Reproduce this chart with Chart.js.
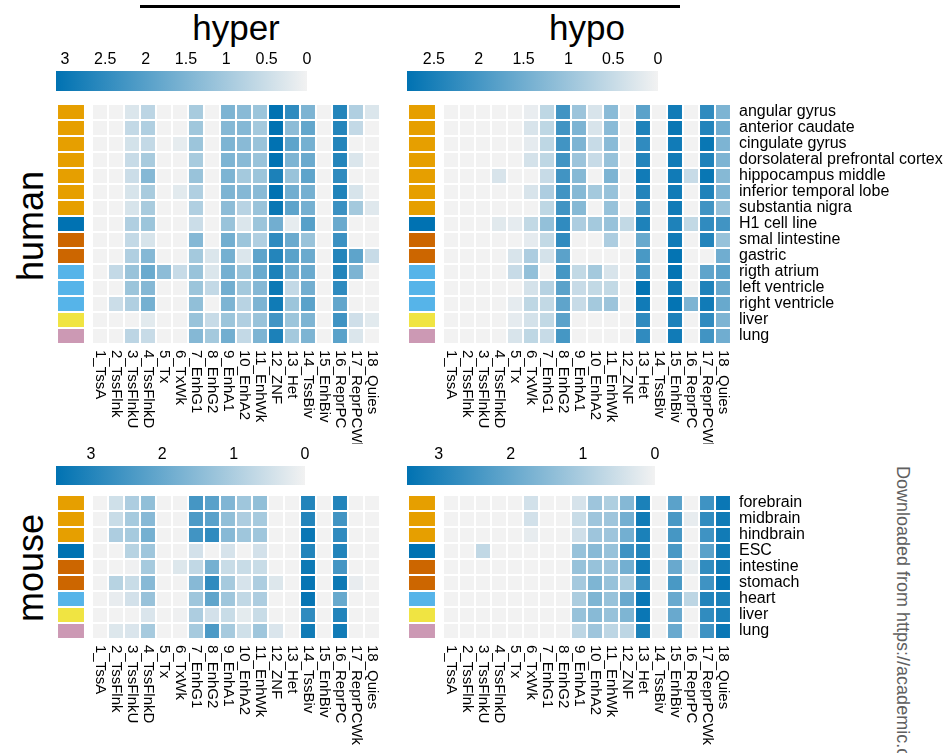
<!DOCTYPE html>
<html><head><meta charset="utf-8">
<script src="https://cdn.jsdelivr.net/npm/chart.js@4"></script>
<style>
html,body{margin:0;padding:0;background:#fff;}
body{width:947px;height:753px;position:relative;overflow:hidden;font-family:"Liberation Sans",Arial,Helvetica,sans-serif;}
canvas{position:absolute;}
.t{position:absolute;white-space:nowrap;color:#000;line-height:1;}
</style></head><body>
<div style="position:absolute;left:140px;top:5px;width:540px;height:3px;background:#000"></div>
<div class="t" style="left:236px;top:10px;font-size:35px;transform:translateX(-50%)">hyper</div>
<div class="t" style="left:587px;top:10px;font-size:35px;transform:translateX(-50%)">hypo</div>
<div class="t" style="left:31px;top:226px;font-size:36px;transform:translate(-50%,-50%) rotate(-90deg)">human</div>
<div class="t" style="left:31px;top:568px;font-size:36px;transform:translate(-50%,-50%) rotate(-90deg)">mouse</div>
<div class="t" style="left:912px;top:466px;font-size:18px;color:#606060;transform-origin:0 0;transform:rotate(90deg)">Downloaded from https://academic.o</div>
<script>
// ---------------- data ----------------
const states = ['1_TssA','2_TssFlnk','3_TssFlnkU','4_TssFlnkD','5_Tx','6_TxWk','7_EnhG1','8_EnhG2','9_EnhA1','10_EnhA2','11_EnhWk','12_ZNF','13_Het','14_TssBiv','15_EnhBiv','16_ReprPC','17_ReprPCWk','18_Quies'];

const humanTissues = ['angular gyrus','anterior caudate','cingulate gyrus','dorsolateral prefrontal cortex','hippocampus middle','inferior temporal lobe','substantia nigra','H1 cell line','smal lintestine','gastric','rigth atrium','left ventricle','right ventricle','liver','lung'];
const humanGroups = ['brain','brain','brain','brain','brain','brain','brain','ESC','digestive','digestive','heart','heart','heart','liver','lung'];

const mouseTissues = ['forebrain','midbrain','hindbrain','ESC','intestine','stomach','heart','liver','lung'];
const mouseGroups = ['brain','brain','brain','ESC','digestive','digestive','heart','liver','lung'];

const humanHyper = [
 [0,0,0.3,0.7,0,0,0.95,0,1.5,1.35,1.1,3.1,2.5,1.5,0,2.65,0.85,0.3],
 [0,0,0.6,0.85,0,0,1.05,0,1.4,1.4,1.0,3.1,1.3,1.85,0,2.65,0.6,0],
 [0,0,0.4,0.6,0,0.15,1.1,0,1.5,1.35,1.15,3.1,1.9,1.6,0,2.65,0,0],
 [0,0,0.55,0.95,0,0,0.95,0,1.5,1.35,1.15,3.1,1.5,1.75,0,2.65,0.3,0],
 [0,0,0.5,1.4,0,0,1.15,0,1.5,1.0,1.1,2.75,1.15,1.9,0,2.5,0,0],
 [0,0,0.35,0.95,0,0.2,0.85,0,1.5,1.4,1.35,3.1,1.65,1.6,0,2.7,0.35,0],
 [0,0,0.35,0.95,0,0,0.85,0,1.3,0.75,1.15,3.0,1.9,1.6,0,2.35,1.0,0.25],
 [0,0,0.85,1.1,0,0,0.5,0,1.15,0.3,1.1,1.65,0.15,2.0,0,1.75,0,0],
 [0,0,0.6,0.35,0,0,1.4,0,1.65,1.1,0.85,2.5,1.75,1.15,0,2.35,0,0],
 [0,0,0.85,1.4,0,0,1.0,0.3,1.6,0.3,1.9,2.65,1.95,1.75,0,2.65,1.9,0.55],
 [0,0.6,1.15,1.75,1.3,0.55,1.15,0.3,1.6,1.1,1.75,2.75,1.65,1.75,0,2.65,1.5,0],
 [0,0,1.1,1.4,0,0,1.1,0.6,1.65,1.0,1.4,2.95,0.6,1.65,0,2.5,0,0],
 [0,0.5,0.85,1.6,0,0,1.25,0,1.5,0.75,1.5,2.9,1.1,1.95,0,1.85,0,0],
 [0,0,0,0.2,0,0,1.15,0.55,1.1,0.85,1.15,2.25,1.1,1.5,0,2.3,0.45,0.2],
 [0,0,0.7,0.55,0,0,1.4,1.0,1.65,0.6,1.5,2.75,1.0,1.5,0,1.95,0.3,0]
];
const humanHypo = [
 [0,0,0,0,0,0.1,0.6,2.05,1.0,0.3,1.2,0,1.75,0,2.6,0,2.25,1.35],
 [0,0,0,0,0,0.3,0.6,2.05,1.35,0.3,1.2,0,2.45,0,2.7,0,2.4,1.5],
 [0,0,0,0,0,0.15,0.6,2.05,1.35,0.5,1.2,0,2.25,0,2.6,0,2.7,1.35],
 [0,0,0,0,0,0.35,0.6,2.05,1.0,0.5,1.05,0,2.4,0,2.6,0,2.45,1.35],
 [0,0,0,0.3,0,0,0.5,2.05,1.25,0,1.35,0,2.6,0,2.6,0.5,2.7,1.25],
 [0,0,0,0,0,0.3,0.8,2.05,1.25,0.9,1.05,0,2.4,0,2.6,0,2.45,1.35],
 [0,0,0,0,0,0,0.6,2.05,1.25,0,1.05,0,2.05,0,2.6,0,2.05,1.05],
 [0,0,0,0.2,0.15,0.55,1.1,2.25,0.8,0.9,1.05,0.55,2.45,0,2.45,0.55,2.25,2.05],
 [0,0,0,0,0,0.15,0.55,2.25,0,0,0.8,0,1.6,0,2.6,0,2.4,1.05],
 [0,0,0,0,0.3,0.8,0.35,1.75,0,0,0,0,1.95,0,2.75,0,0,1.5],
 [0,0,0,0,0.5,1.1,0,2.0,0.55,0.9,0.3,0,2.05,0,2.75,0,1.7,1.75],
 [0,0,0,0,0,0.35,0.7,1.75,0.5,0.55,0.55,0,2.75,0,2.6,0,2.45,1.6],
 [0,0,0,0,0.15,0.6,0.55,1.7,0.5,0.9,1.0,0,2.6,0,2.75,1.35,2.6,1.6],
 [0,0,0,0,0.15,0.35,0.55,1.75,0,0,0,0,2.25,0,2.45,0,2.25,1.35],
 [0,0,0,0,0.3,0.6,0.5,2.0,0,0,0,0,2.25,0,2.6,0,2.05,1.5]
];
const mouseHyper = [
 [0,0.5,1.0,1.4,0,0,2.5,2.2,1.65,1.2,1.4,0,0,3.0,0,3.0,0,0],
 [0,0.6,1.1,1.55,0,0,2.4,2.2,1.4,1.0,1.1,0,0,3.0,0,2.55,0,0],
 [0,1.0,1.1,1.8,0,0,2.55,2.8,1.55,1.2,1.2,0,0,3.35,0,2.8,0,0],
 [0,0,0.85,1.2,0,0,0.45,0,0.4,0,0.45,0,0,3.0,0,3.0,0,0],
 [0,0,0.05,1.1,0,0.3,0.7,1.8,0.6,0.6,0.6,0,0,3.3,0,2.5,0,0],
 [0,0.85,0.6,1.55,0,0,1.55,2.8,1.1,0.4,1.0,0.3,0,3.4,0,3.3,0.15,0],
 [0,0.15,0.45,1.3,0,0,1.2,2.1,1.2,0.7,1.0,0,0,3.4,0,2.0,0,0],
 [0,0,0,0.35,0,0.05,1.0,0.45,0.6,0.2,0.6,0,0,2.8,0,3.0,0,0],
 [0,0.3,0.35,1.1,0,0,1.1,2.4,1.1,0.5,1.2,0.35,0,3.25,0,3.25,0,0]
];
const mouseHypo = [
 [0,0,0,0,0,0.45,0,0,0.4,1.2,0.95,1.55,3.05,0,2.15,0,2.55,3.3],
 [0,0,0,0,0,0.45,0,0,0.6,1.2,1.2,1.8,3.2,0,2.4,0.15,2.75,3.2],
 [0,0,0,0,0,0.15,0,0,0.5,1.2,1.2,1.8,3.05,0,2.45,0,2.55,3.2],
 [0,0,0.7,0,0,0,0,0,1.3,1.5,1.3,2.55,2.95,0,2.4,0,2.15,3.2],
 [0,0,0,0,0,0,0,0,1.3,1.3,1.2,1.8,3.2,0,1.95,0.15,2.75,3.2],
 [0,0,0,0,0,0,0,0,1.1,1.65,1.3,1.0,2.75,0,2.4,0,2.55,3.35],
 [0,0,0,0,0,0,0,0,1.0,1.65,1.3,1.95,3.3,0,1.95,0.75,2.95,3.05],
 [0,0,0,0,0,0,0,0,1.3,1.5,1.3,1.65,3.3,0,1.95,0,2.75,3.05],
 [0,0,0,0,0,0,0,0,0.75,1.2,0.75,0.75,3.05,0,1.95,0,2.55,3.3]
];

// colour-scale limits and tick labels
const humanHyperMax = 3.11;
const humanHypoMax = 2.8;
const mouseHyperMax = 3.49;
const mouseHypoMax = 3.44;
const humanHyperTicks = [3,2.5,2,1.5,1,0.5,0];
const humanHypoTicks = [2.5,2,1.5,1,0.5,0];
const mouseHyperTicks = [3,2,1,0];
const mouseHypoTicks = [3,2,1,0];

// ---------------- styling ----------------
const FONT = "'Liberation Sans', Arial, Helvetica, sans-serif";
const groupColors = {brain:'#E69F00', ESC:'#0072B2', digestive:'#CC6600', heart:'#56B4E9', liver:'#F0E442', lung:'#CC99B4'};
const LOW = [242,242,242], HIGH = [0,114,178];
function heatColor(v, vmax){
  const t = Math.max(0, Math.min(1, v / vmax));
  const c = LOW.map((l,k)=>Math.round(l + (HIGH[k]-l)*t));
  return `rgb(${c[0]},${c[1]},${c[2]})`;
}
function mkCanvas(left, top, w, h){
  const c = document.createElement('canvas');
  c.width = w; c.height = h;
  c.style.left = left+'px'; c.style.top = top+'px';
  c.style.width = w+'px'; c.style.height = h+'px';
  document.body.appendChild(c);
  return c;
}
const baseOpts = {responsive:false, animation:false, devicePixelRatio:1,
  plugins:{legend:{display:false}, tooltip:{enabled:false}}};

const stateLabels = {
  id:'stateLabels',
  afterDraw(chart){
    const ctx = chart.ctx, xs = chart.scales.x, top = chart.chartArea.bottom + 6;
    ctx.save();
    ctx.font = `15px ${FONT}`; ctx.fillStyle = '#000';
    ctx.textAlign = 'left'; ctx.textBaseline = 'middle';
    chart.data.labels.forEach((lab,i)=>{
      ctx.save();
      ctx.translate(xs.getPixelForValue(i), top);
      ctx.rotate(Math.PI/2);
      ctx.fillText(lab, 0, 0);
      ctx.restore();
    });
    ctx.restore();
  }
};

const CELL = 16, BW = 1.35;

function heatmap(left, top, values, vmax, tissues, rowLabels, padB){
  const areaW = states.length*CELL, areaH = tissues.length*CELL, axisW = rowLabels ? 220 : 0;
  const cv = mkCanvas(left, top, areaW + axisW, areaH + padB);
  const scales = {
    x:{type:'category', stacked:true, display:false, offset:true},
    y:{type:'linear', stacked:true, display:false, min:0, max:tissues.length, reverse:true}
  };
  if (rowLabels) {
    scales.yRows = {type:'category', axis:'y', labels:tissues, position:'right', offset:true,
      grid:{display:false, drawTicks:false}, border:{display:false},
      ticks:{autoSkip:false, padding:8, color:'#000', font:{family:FONT, size:16}},
      afterFit: s => { s.width = axisW; s.paddingTop = 0; s.paddingBottom = 0; }};
  }
  new Chart(cv, {
    type:'bar',
    data:{labels:states, datasets: values.map((row,i)=>({
      label:tissues[i], data: row.map(()=>1),
      backgroundColor: row.map(v=>heatColor(v, vmax)),
      borderColor:'#ffffff', borderWidth:BW, borderSkipped:false,
      barPercentage:1, categoryPercentage:1}))},
    options:Object.assign({}, baseOpts, {layout:{padding:{left:0,right:0,top:0,bottom:padB}}, scales}),
    plugins:[stateLabels]
  });
}

function annot(left, top, groups){
  const cv = mkCanvas(left, top, 28, groups.length*CELL);
  new Chart(cv, {
    type:'bar',
    data:{labels:['tissue'], datasets: groups.map(g=>({data:[1], backgroundColor:groupColors[g],
      borderColor:'#ffffff', borderWidth:BW, borderSkipped:false, barPercentage:1, categoryPercentage:1}))},
    options:Object.assign({}, baseOpts, {layout:{padding:0},
      scales:{x:{stacked:true, display:false}, y:{stacked:true, display:false, min:0, max:groups.length, reverse:true}}})
  });
}

function colorbar(left, top, w, h, vmax, ticks){
  const pad = 14, axisH = 24;
  const cv = mkCanvas(left - pad, top - axisH, w + 2*pad, h + axisH);
  new Chart(cv, {
    type:'bar',
    data:{labels:[''], datasets:[{data:[vmax], borderWidth:0, barPercentage:1, categoryPercentage:1,
      backgroundColor: c => {
        const ch = c.chart; if (!ch.chartArea) return '#0072B2';
        const xs = ch.scales.x;
        const g = ch.ctx.createLinearGradient(xs.getPixelForValue(vmax),0,xs.getPixelForValue(0),0);
        g.addColorStop(0, heatColor(vmax, vmax)); g.addColorStop(1, heatColor(0, vmax));
        return g;
      }}]},
    options:Object.assign({}, baseOpts, {indexAxis:'y',
      layout:{padding:{left:pad,right:pad,top:0,bottom:0}},
      scales:{
        x:{type:'linear', position:'top', reverse:true, min:0, max:vmax,
          grid:{display:false, drawTicks:false}, border:{display:false},
          afterBuildTicks: s => { s.ticks = ticks.map(v=>({value:v})); },
          afterFit: s => { s.height = axisH; },
          ticks:{autoSkip:false, maxRotation:0, minRotation:0, padding:2, color:'#000',
            font:{family:FONT, size:16}, callback: v => String(v)}},
        y:{display:false}
      }})
  });
}

// ---------------- build ----------------
colorbar(56, 71, 251, 20, humanHyperMax, humanHyperTicks);
colorbar(407, 71, 251, 20, humanHypoMax, humanHypoTicks);
colorbar(56, 466, 249, 19, mouseHyperMax, mouseHyperTicks);
colorbar(407, 466, 248, 19, mouseHypoMax, mouseHypoTicks);

annot(57, 104, humanGroups);
annot(408, 104, humanGroups);
annot(57, 495, mouseGroups);
annot(408, 495, mouseGroups);

heatmap(92, 104, humanHyper, humanHyperMax, humanTissues, false, 100);
heatmap(443, 104, humanHypo, humanHypoMax, humanTissues, true, 100);
heatmap(92, 495, mouseHyper, mouseHyperMax, mouseTissues, false, 118);
heatmap(443, 495, mouseHypo, mouseHypoMax, mouseTissues, true, 118);
</script>
</body></html>
